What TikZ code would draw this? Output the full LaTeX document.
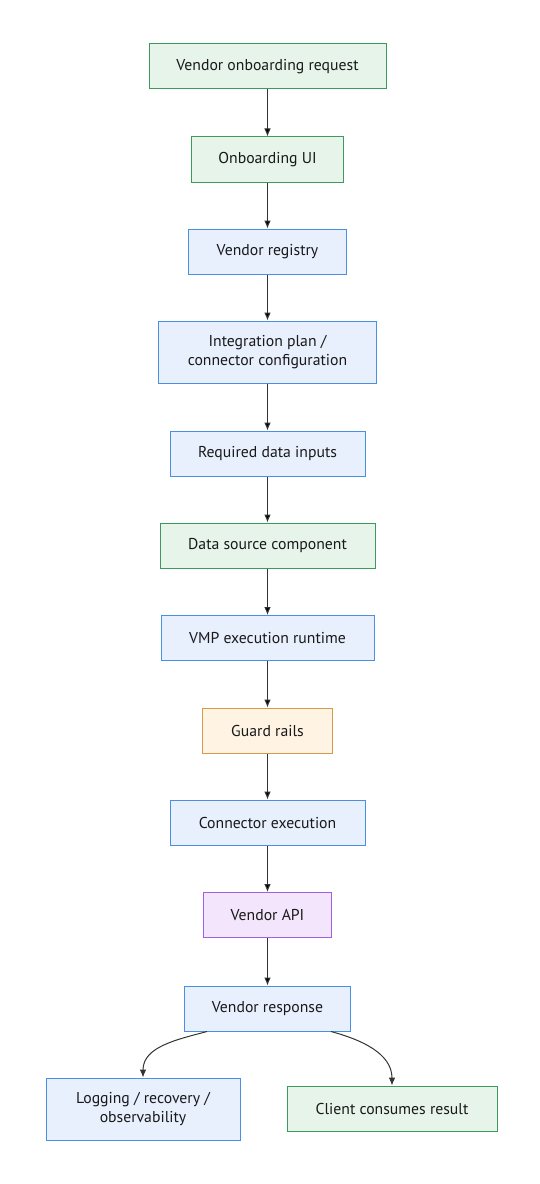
\documentclass[tikz,border=0pt]{standalone}
\usepackage{fontspec}
\setmainfont{PT Sans}
\usetikzlibrary{arrows.meta}

\definecolor{greenfill}{HTML}{E6F4EA}
\definecolor{greenline}{HTML}{3C9A5F}
\definecolor{bluefill}{HTML}{E8F0FE}
\definecolor{blueline}{HTML}{4A90E2}
\definecolor{orangefill}{HTML}{FFF4E3}
\definecolor{orangeline}{HTML}{D49A45}
\definecolor{purplefill}{HTML}{F3E6FC}
\definecolor{purpleline}{HTML}{A35EE6}
\definecolor{edgegray}{HTML}{333333}

\tikzset{box/.style = {shape = rectangle,
                       draw,
                       line width = 0.75pt,
                       minimum height = 33.75pt,
                       inner sep = 2pt,
                       align = center,
                       text = black!90,
                       font = \fontsize{11.8}{14}\selectfont},
         greenbox/.style = {box, fill = greenfill, draw = greenline},
         bluebox/.style = {box, fill = bluefill, draw = blueline},
         orangebox/.style = {box, fill = orangefill, draw = orangeline},
         purplebox/.style = {box, fill = purplefill, draw = purpleline},
         flow/.style = {draw = edgegray, line width = 0.75pt,
                        -{Latex[length=6pt,width=5pt]}}}

\begin{document}
\begin{tikzpicture}[x = 0.75pt, y = 0.75pt]
		\useasboundingbox (0,0) rectangle (539,-1184);
		\node[greenbox, minimum width = 177.75pt] (request) at (267.5,-66.5) {Vendor onboarding request};
		\node[greenbox, minimum width = 114pt] (ui) at (267.5,-159.5) {Onboarding UI};
		\node[bluebox, minimum width = 118.5pt] (registry) at (267.5,-251.5) {Vendor registry};
		\node[bluebox, minimum width = 163.5pt, minimum height = 46.5pt] (plan) at (267.5,-352) {Integration plan /\\connector configuration};
		\node[bluebox, minimum width = 146.25pt] (inputs) at (267.5,-453.5) {Required data inputs};
		\node[greenbox, minimum width = 161.25pt] (source) at (267.5,-545.5) {Data source component};
		\node[bluebox, minimum width = 159.75pt] (runtime) at (267.5,-638) {VMP execution runtime};
		\node[orangebox, minimum width = 97.5pt] (guard) at (267.5,-730.5) {Guard rails};
		\node[bluebox, minimum width = 146.25pt] (connexec) at (267.5,-822.5) {Connector execution};
		\node[purplebox, minimum width = 96pt] (api) at (267.5,-915) {Vendor API};
		\node[bluebox, minimum width = 124.5pt] (response) at (267.5,-1008.5) {Vendor response};
		\node[bluebox, minimum width = 145.5pt, minimum height = 46.5pt] (logging) at (143,-1109) {Logging / recovery /\\observability};
		\node[greenbox, minimum width = 157.5pt] (client) at (392,-1108.5) {Client consumes result};
		\path[flow] (request) edge (ui);
		\path[flow] (ui) edge (registry);
		\path[flow] (registry) edge (plan);
		\path[flow] (plan) edge (inputs);
		\path[flow] (inputs) edge (source);
		\path[flow] (source) edge (runtime);
		\path[flow] (runtime) edge (guard);
		\path[flow] (guard) edge (connexec);
		\path[flow] (connexec) edge (api);
		\path[flow] (api) edge (response);
		\draw[flow] (response.south west) ++(23,0) to[out=195, in=90] (logging.north);
		\draw[flow] (response.south east) ++(-20,0) to[out=-15, in=90] (client.north);
	\end{tikzpicture}
\end{document}
